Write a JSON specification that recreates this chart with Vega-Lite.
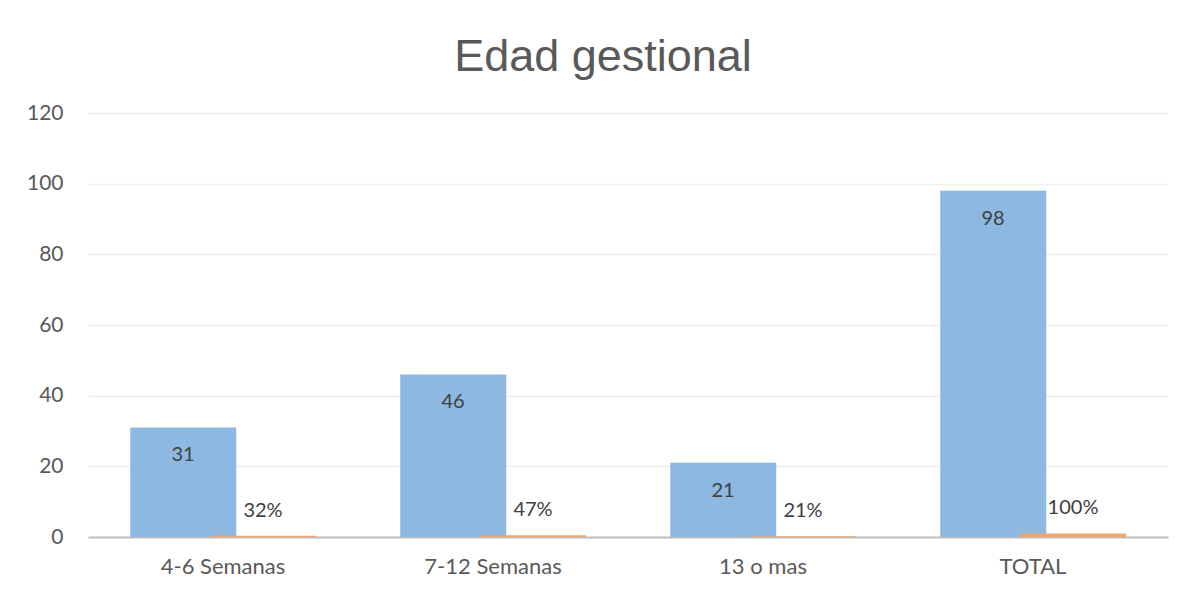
{
  "$schema": "https://vega.github.io/schema/vega-lite/v6.json",
  "autosize": {"type": "none"},
  "padding": {"left": 88, "top": 113, "right": 19, "bottom": 55},
  "width": 1080,
  "height": 424,
  "background": "white",
  "title": {
    "text": "Edad gestional",
    "font": "Liberation Sans",
    "fontSize": 45,
    "fontWeight": "normal",
    "color": "#595959",
    "anchor": "middle",
    "dx": -25,
    "offset": 22
  },
  "config": {
    "view": {"stroke": null},
    "font": "Lato"
  },
  "data": {
    "values": [
      {"categoria": "4-6 Semanas", "serie": "Frecuencia", "valor": 31, "etiqueta": "31"},
      {"categoria": "4-6 Semanas", "serie": "Porcentaje", "valor": 0.32, "etiqueta": "32%"},
      {"categoria": "7-12 Semanas", "serie": "Frecuencia", "valor": 46, "etiqueta": "46"},
      {"categoria": "7-12 Semanas", "serie": "Porcentaje", "valor": 0.47, "etiqueta": "47%"},
      {"categoria": "13 o mas", "serie": "Frecuencia", "valor": 21, "etiqueta": "21"},
      {"categoria": "13 o mas", "serie": "Porcentaje", "valor": 0.21, "etiqueta": "21%"},
      {"categoria": "TOTAL", "serie": "Frecuencia", "valor": 98, "etiqueta": "98"},
      {"categoria": "TOTAL", "serie": "Porcentaje", "valor": 1, "etiqueta": "100%"}
    ]
  },
  "encoding": {
    "x": {
      "field": "categoria",
      "type": "nominal",
      "sort": ["4-6 Semanas", "7-12 Semanas", "13 o mas", "TOTAL"],
      "scale": {"paddingInner": 0.4074, "paddingOuter": 0.2037},
      "axis": {
        "title": null,
        "labelAngle": 0,
        "labelFont": "Lato",
        "labelFontSize": 22,
        "labelColor": "#595959",
        "labelPadding": 19,
        "ticks": false,
        "domainColor": "#BFBFBF",
        "domainWidth": 2,
        "grid": false
      }
    },
    "xOffset": {
      "field": "serie",
      "type": "nominal",
      "sort": ["Frecuencia", "Porcentaje"],
      "scale": {"paddingInner": 0, "paddingOuter": 0, "range": [13.25, 173.25]}
    },
    "y": {
      "field": "valor",
      "type": "quantitative",
      "scale": {"domain": [0, 120]},
      "axis": {
        "title": null,
        "values": [0, 20, 40, 60, 80, 100, 120],
        "labelFont": "Lato",
        "labelFontSize": 21,
        "labelColor": "#595959",
        "labelPadding": 25,
        "ticks": false,
        "domain": false,
        "gridColor": "#EFEFEF",
        "gridWidth": 1.5
      }
    }
  },
  "layer": [
    {
      "mark": {"type": "bar", "width": {"band": 1.325}},
      "encoding": {
        "color": {
          "field": "serie",
          "type": "nominal",
          "scale": {"domain": ["Frecuencia", "Porcentaje"], "range": ["#8DB8E1", "#F3A46B"]},
          "legend": null
        }
      }
    },
    {
      "transform": [{"filter": "datum.serie === 'Frecuencia'"}],
      "mark": {"type": "text", "baseline": "middle", "dx": -13.25, "dy": 28, "font": "Lato", "fontSize": 20, "color": "#404040"},
      "encoding": {"text": {"field": "etiqueta"}}
    },
    {
      "transform": [{"filter": "datum.serie === 'Porcentaje'"}],
      "mark": {"type": "text", "baseline": "middle", "dx": -13.25, "dy": -25, "font": "Lato", "fontSize": 20, "color": "#404040"},
      "encoding": {"text": {"field": "etiqueta"}}
    }
  ]
}
